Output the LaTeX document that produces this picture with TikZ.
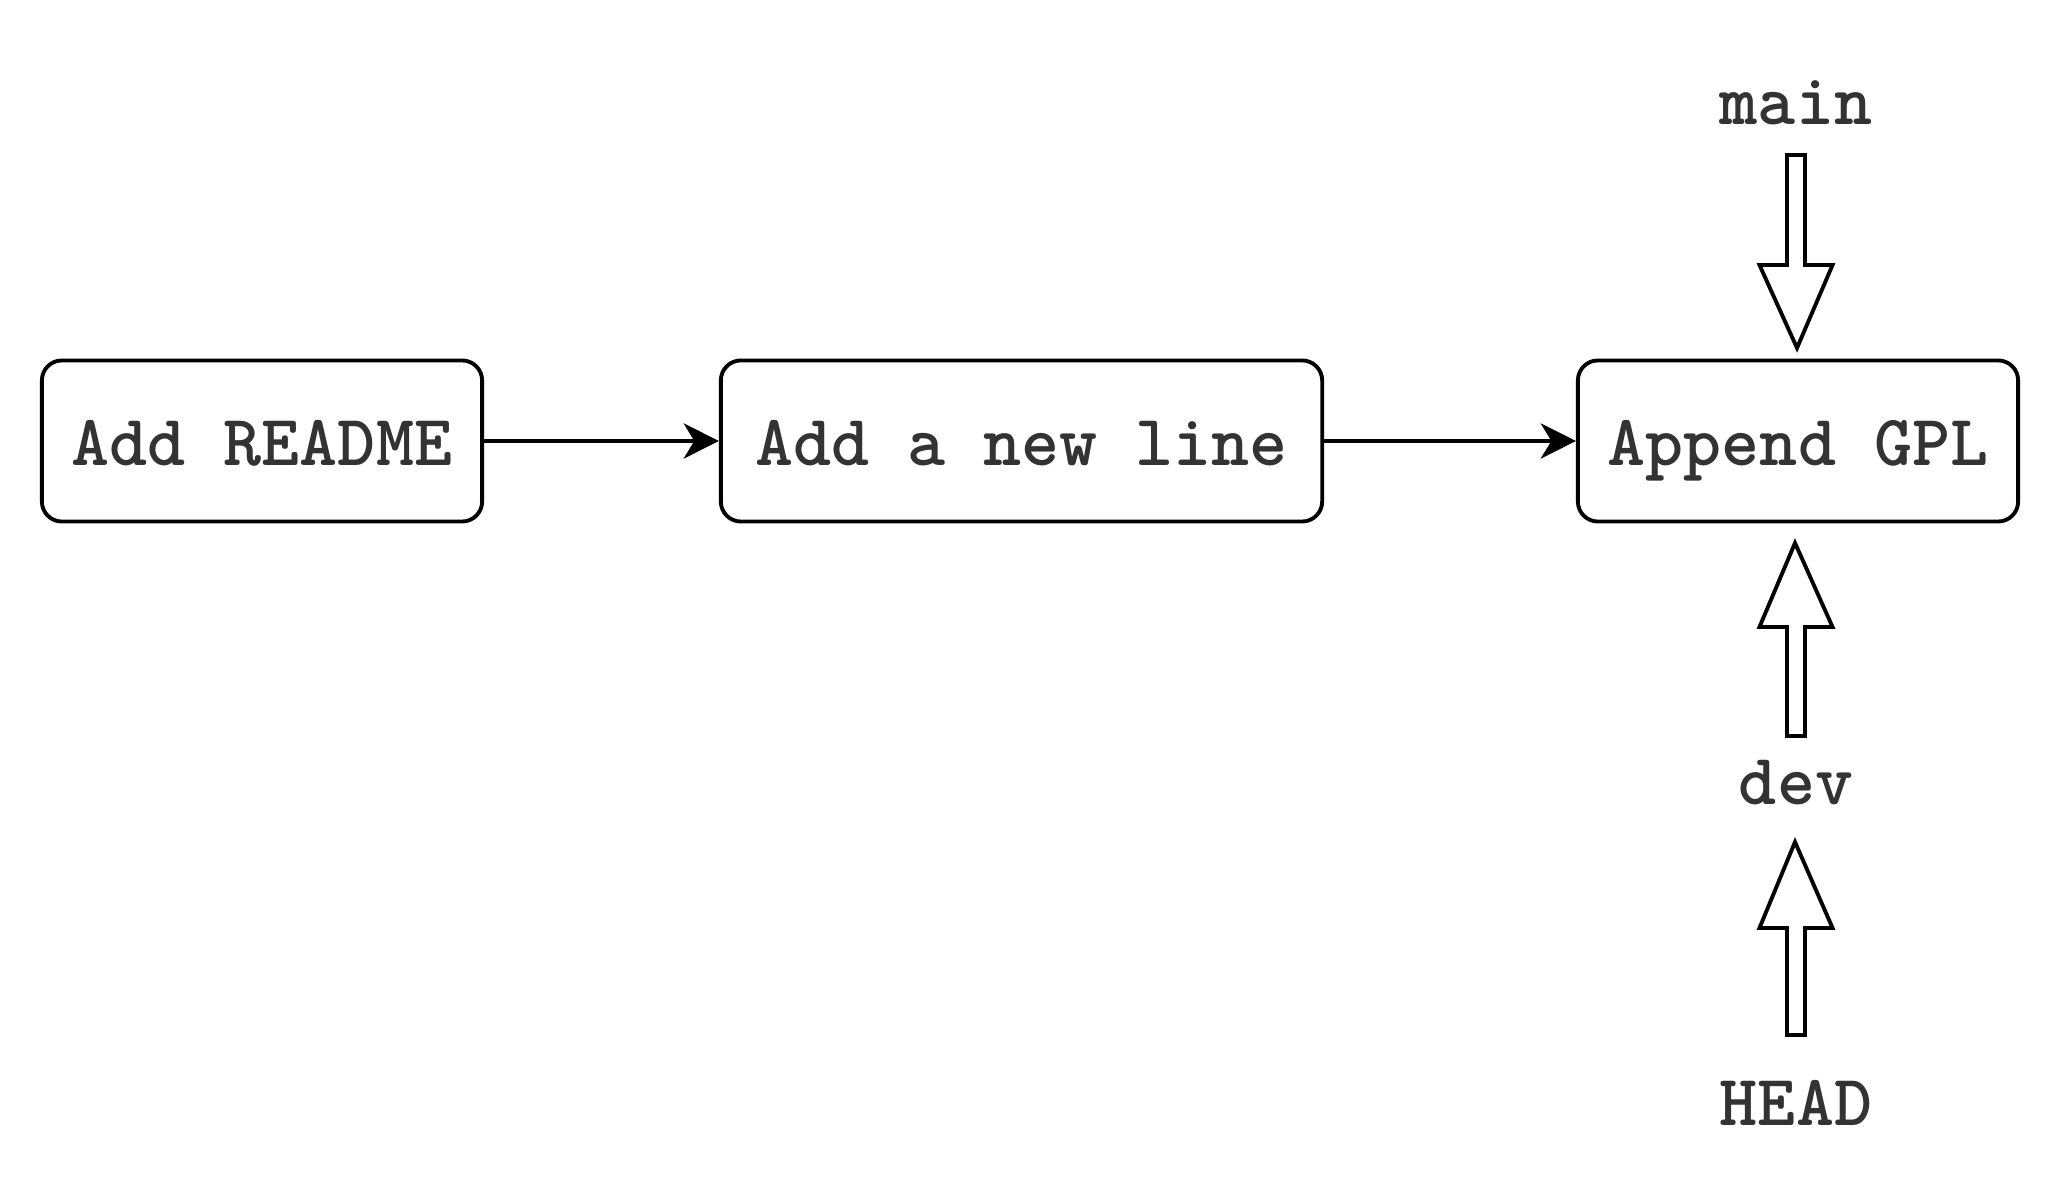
\documentclass[tikz,border=0pt]{standalone}
\usepackage{fontspec}
\usetikzlibrary{arrows.meta,calc}
\definecolor{txt}{HTML}{333333}
\newcommand\blockarr[3]{%
  \draw[barrow] let \p1=(#1), \p2=(#2), \p3=(#3) in
   (\x1-0.09cm,\y1) -- (\x1+0.09cm,\y1) -- (\x1+0.09cm,\y2) -- (\x1+0.365cm,\y2)
   -- (\p3) -- (\x1-0.365cm,\y2) -- (\x1-0.09cm,\y2) -- cycle;}
\begin{document}
\begin{tikzpicture}[x=0.01cm,y=-0.01cm,
  commit/.style={draw=black,line width=1.1pt,rounded corners=0.2cm,fill=white,
    minimum height=1.61cm,text height=14pt,text depth=0pt,text=txt,
    font=\fontsize{20.6}{22}\ttfamily\bfseries},
  lbl/.style={anchor=base,text=txt,inner sep=0pt,font=\fontsize{20.6}{22}\ttfamily\bfseries},
  conn/.style={draw=black,line width=1.1pt,-{Stealth[length=10pt,width=10pt,inset=3pt]}},
  barrow/.style={draw=black,line width=1.1pt,fill=white,line join=miter}]
\useasboundingbox (0,0) rectangle (2060,1204);
\node[commit,minimum width=4.4cm] (b1) at (262,441) {Add README};
\node[commit,minimum width=6.01cm] (b2) at (1021.5,441) {Add a new line};
\node[commit,minimum width=4.4cm] (b3) at (1798,441) {Append GPL};
\draw[conn] (b1.east) -- (b2.west);
\draw[conn] (b2.east) -- (b3.west);
\node[lbl] (main) at (1796,125) {main};
\node[lbl] (dev) at (1796,805) {dev};
\node[lbl] (head) at (1796,1126) {HEAD};
\coordinate (mt) at (1796,155);
\coordinate (mb) at (1796,265);
\coordinate (mp) at (1797,348);
\coordinate (dt) at (1796,736);
\coordinate (db) at (1796,627);
\coordinate (dp) at (1795,543);
\coordinate (ht) at (1796,1035);
\coordinate (hb) at (1796,928);
\coordinate (hp) at (1795,842);
\blockarr{mt}{mb}{mp}
\blockarr{dt}{db}{dp}
\blockarr{ht}{hb}{hp}
\end{tikzpicture}
\end{document}
